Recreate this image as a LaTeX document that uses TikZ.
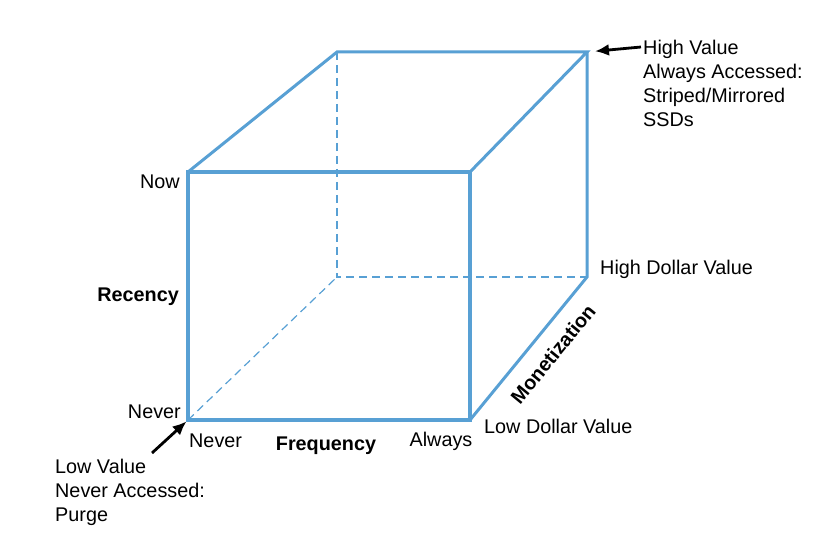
\documentclass[tikz,border=0pt]{standalone}
\usepackage{fontspec}
\setmainfont{Liberation Sans}
\usetikzlibrary{arrows.meta}
\definecolor{cubeblue}{RGB}{88,160,212}
\tikzset{
  edge/.style={draw=cubeblue,line width=3pt,line join=miter},
  frontedge/.style={draw=cubeblue,line width=3.8pt,line join=miter},
  hidden/.style={draw=cubeblue,line width=1.2pt,dash pattern=on 8pt off 5pt},
  pointer/.style={-{Latex[length=14pt,width=12pt]},line width=2.8pt,black},
  axislabel/.style={font=\fontsize{19.8}{24}\selectfont\bfseries,inner sep=0pt},
  ticklabel/.style={font=\fontsize{19.8}{24}\selectfont,inner sep=0pt},
  note/.style={font=\fontsize{19.8}{24}\selectfont,inner sep=0pt,align=left}
}
\begin{document}
\begin{tikzpicture}[x=1pt,y=1pt]
\useasboundingbox (0,0) rectangle (835,547);
% cube corners
\coordinate (ftl) at (188,375);
\coordinate (ftr) at (470,375);
\coordinate (fbl) at (188,127);
\coordinate (fbr) at (470,127);
\coordinate (btl) at (337,495);
\coordinate (btr) at (587,495);
\coordinate (bbl) at (337,270);
\coordinate (bbr) at (587,270);
% hidden edges
\draw[hidden] (fbl) -- (bbl);
\draw[hidden] (btl) -- (bbl) -- (bbr);
% visible edges
\draw[edge] (ftl) -- (btl) -- (btr) -- (ftr);
\draw[edge] (btr) -- (bbr) -- (fbr);
\draw[frontedge] (ftl) -- (ftr) -- (fbr) -- (fbl) -- cycle;
% axis ticks
\node[ticklabel,anchor=east] (now) at (180,365) {Now};
\node[ticklabel,anchor=east] (neverr) at (181,135) {Never};
\node[ticklabel,anchor=west] (neverf) at (189,106) {Never};
\node[ticklabel] (always) at (441,106) {Always};
\node[ticklabel,anchor=west] (lowdollar) at (484,121) {Low Dollar Value};
\node[ticklabel,anchor=west] (highdollar) at (600,278) {High Dollar Value};
% axis names
\node[axislabel,anchor=east] (recency) at (179,250) {Recency};
\node[axislabel] (frequency) at (326,101) {Frequency};
\node[axislabel,rotate=50.7] (monetization) at (553,193) {Monetization};
% corner notes
\node[note,anchor=north west] (highvalue) at (643,507) {High Value\\Always Accessed:\\Striped/Mirrored\\SSDs};
\node[note,anchor=north west] (lowvalue) at (55,88) {Low Value\\Never Accessed:\\Purge};
\coordinate (hvtail) at (641,500);
\coordinate (lvtail) at (152,94);
\draw[pointer,shorten >=8pt] (hvtail) -- (btr);
\draw[pointer,shorten >=2pt] (lvtail) -- (fbl);
\end{tikzpicture}
\end{document}
